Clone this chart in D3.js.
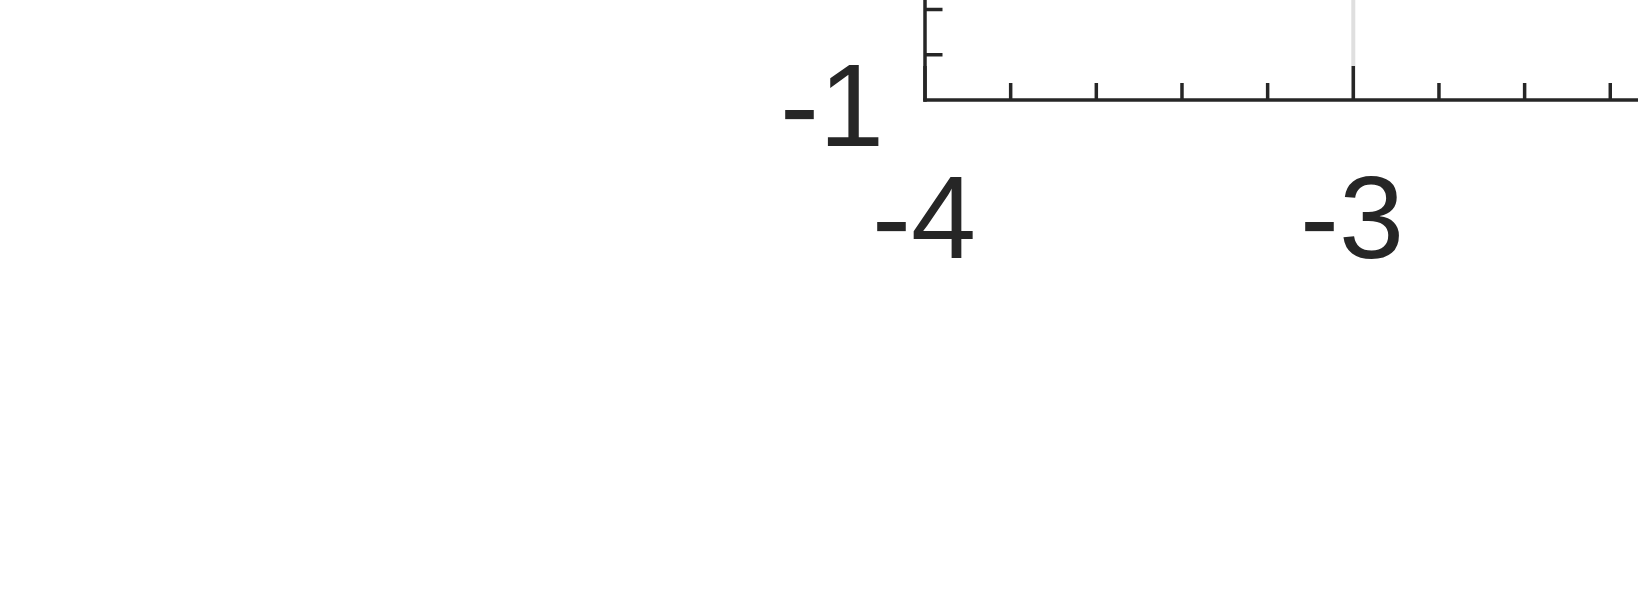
<!DOCTYPE html>
<html>
<head>
<meta charset="utf-8">
<script src="https://cdn.jsdelivr.net/npm/d3@7/dist/d3.min.js"></script>
<style>
  @font-face {
    font-family: "ChartSans";
    src: local("Liberation Sans"), local("LiberationSans-Regular"), local("LiberationSans"), local("Arimo"), local("Arimo-Regular");
  }
  html, body { margin: 0; padding: 0; background: #ffffff; }
  svg { display: block; }
  .lbl { font-family: "ChartSans", "Liberation Sans", Arimo, "Noto Sans", Roboto, sans-serif; font-size: 117px; }
</style>
</head>
<body>
<svg id="chart" width="1638" height="597"></svg>
<script>
// ---- data (tick values and labels) ----
const xMajorTicks = [-4, -3];
const xMajorLabels = ["-4", "-3"];
const xMinorTicks = [-3.8, -3.6, -3.4, -3.2, -2.8, -2.6, -2.4, -2.2, -2.0];
const xGridLines = [-3];
const yMajorTicks = [-1];
const yMajorLabels = ["-1"];
const yMinorTicks = [-0.8, -0.6, -0.4];

// ---- layout ----
const W = 1638, H = 597;
const axisColor = "#262626";
const gridColor = "#dfdfdf";
const lw = 3.5;

const svg = d3.select("#chart");

const x = d3.scaleLinear().domain([-4, -3]).range([925, 1353.3]);
const y = d3.scaleLinear().domain([-1, -0.8]).range([100, 54.75]);

const x0 = x(-4), y0 = y(-1);

// grid lines
svg.append("g").selectAll("line").data(xGridLines).join("line")
  .attr("x1", d => x(d)).attr("x2", d => x(d))
  .attr("y1", 0).attr("y2", y0)
  .attr("stroke", gridColor).attr("stroke-width", 4);

// x minor ticks (inward)
svg.append("g").selectAll("line").data(xMinorTicks).join("line")
  .attr("x1", d => x(d)).attr("x2", d => x(d))
  .attr("y1", y0).attr("y2", y0 - 17)
  .attr("stroke", axisColor).attr("stroke-width", lw);

// x major ticks (inward)
svg.append("g").selectAll("line").data(xMajorTicks).join("line")
  .attr("x1", d => x(d)).attr("x2", d => x(d))
  .attr("y1", y0).attr("y2", y0 - 34)
  .attr("stroke", axisColor).attr("stroke-width", lw);

// y minor ticks (inward)
svg.append("g").selectAll("line").data(yMinorTicks).join("line")
  .attr("x1", x0).attr("x2", x0 + 17.5)
  .attr("y1", d => y(d)).attr("y2", d => y(d))
  .attr("stroke", axisColor).attr("stroke-width", lw);

// axis lines
svg.append("line")
  .attr("x1", x0 - lw / 2).attr("x2", W)
  .attr("y1", y0).attr("y2", y0)
  .attr("stroke", axisColor).attr("stroke-width", lw);
svg.append("line")
  .attr("x1", x0).attr("x2", x0)
  .attr("y1", 0).attr("y2", y0 + lw / 2)
  .attr("stroke", axisColor).attr("stroke-width", lw);

// x labels
svg.append("g").selectAll("text").data(xMajorTicks).join("text")
  .attr("class", "lbl")
  .attr("x", d => x(d) - 1)
  .attr("y", y0 + 158)
  .attr("text-anchor", "middle")
  .attr("fill", axisColor)
  .text((d, i) => xMajorLabels[i]);

// y labels
svg.append("g").selectAll("text").data(yMajorTicks).join("text")
  .attr("class", "lbl")
  .attr("x", x0 - 41)
  .attr("y", d => y(d) + 46)
  .attr("text-anchor", "end")
  .attr("fill", axisColor)
  .text((d, i) => yMajorLabels[i]);
</script>
</body>
</html>
